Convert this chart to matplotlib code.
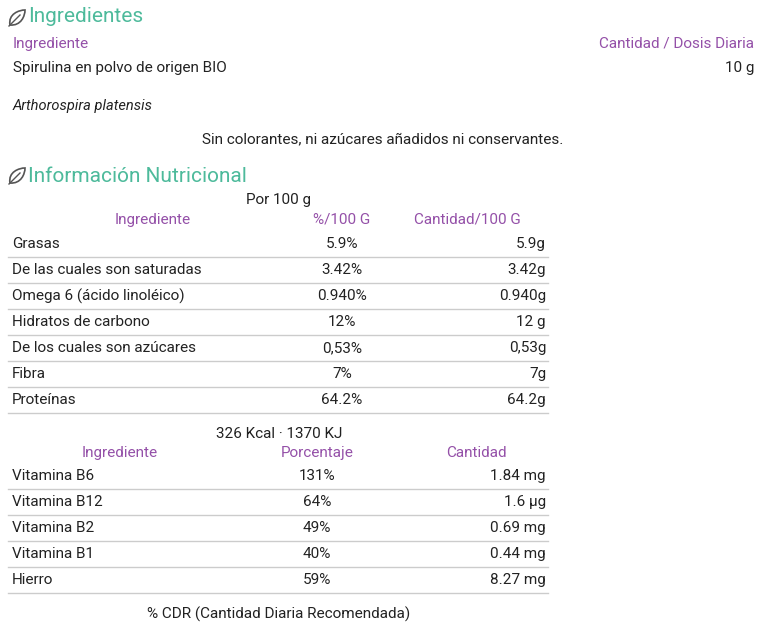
import matplotlib
matplotlib.use("Agg")
import matplotlib.pyplot as plt
from matplotlib.patches import PathPatch
from matplotlib.path import Path

plt.rcParams['font.family'] = ['Roboto', 'DejaVu Sans']

ingredients = ["Spirulina en polvo de origen BIO"]
ingredient_qty = ["10 g"]
nut_names = ["Grasas", "De las cuales son saturadas", "Omega 6 (ácido linoléico)",
             "Hidratos de carbono", "De los cuales son azúcares", "Fibra", "Proteínas"]
nut_pct = ["5.9%", "3.42%", "0.940%", "12%", "0,53%", "7%", "64.2%"]
nut_qty = ["5.9g", "3.42g", "0.940g", "12 g", "0,53g", "7g", "64.2g"]
vit_names = ["Vitamina B6", "Vitamina B12", "Vitamina B2", "Vitamina B1", "Hierro"]
vit_pct = ["131%", "64%", "49%", "40%", "59%"]
vit_qty = ["1.84 mg", "1.6 µg", "0.69 mg", "0.44 mg", "8.27 mg"]

GREEN = "#4dba9b"
PURPLE = "#9450a8"
TXT = "#222222"
LINE = "#cccccc"

fig = plt.figure(figsize=(7.62, 6.32), dpi=100)
ax = fig.add_axes([0, 0, 1, 1])
ax.set_xlim(0, 762); ax.set_ylim(632, 0); ax.axis("off")

FS = 11

def leaf(x, y):
    verts = [(x-7, y+7), (x-9, y-4), (x+2, y-8), (x+8, y-8),
             (x+8, y-2), (x+4, y+8), (x-7, y+7)]
    codes = [Path.MOVETO, Path.CURVE4, Path.CURVE4, Path.CURVE4,
             Path.CURVE4, Path.CURVE4, Path.CURVE4]
    ax.add_patch(PathPatch(Path(verts, codes), fill=False, ec="#555", lw=1.2))
    ax.plot([x-8, x+3], [y+8, y-3], color="#555", lw=1)

leaf(17, 18)
ax.text(28, 17, "Ingredientes", color=GREEN, fontsize=15, va="center")
ax.text(13, 44, "Ingrediente", color=PURPLE, fontsize=FS, va="center")
ax.text(754, 44, "Cantidad / Dosis Diaria", color=PURPLE, fontsize=FS, va="center", ha="right")
for i, (n, q) in enumerate(zip(ingredients, ingredient_qty)):
    ax.text(13, 68 + 24*i, n, color=TXT, fontsize=FS, va="center")
    ax.text(754, 68 + 24*i, q, color=TXT, fontsize=FS, va="center", ha="right")
ax.text(13, 106, "Arthorospira platensis", color=TXT, fontsize=FS-0.5, va="center", style="italic")
ax.text(383, 139, "Sin colorantes, ni azúcares añadidos ni conservantes.", color=TXT, fontsize=FS, va="center", ha="center")

leaf(17, 176)
ax.text(28, 176, "Información Nutricional", color=GREEN, fontsize=15, va="center")
ax.text(279, 200, "Por 100 g", color=TXT, fontsize=FS, va="center", ha="center")
ax.text(153, 220, "Ingrediente", color=PURPLE, fontsize=FS, va="center", ha="center")
ax.text(342, 220, "%/100 G", color=PURPLE, fontsize=FS, va="center", ha="center")
ax.text(467, 220, "Cantidad/100 G", color=PURPLE, fontsize=FS, va="center", ha="center")
for i, (n, p, q) in enumerate(zip(nut_names, nut_pct, nut_qty)):
    y = 244 + 26*i
    ax.text(12, y, n, color=TXT, fontsize=FS, va="center")
    ax.text(342, y, p, color=TXT, fontsize=FS, va="center", ha="center")
    ax.text(546, y, q, color=TXT, fontsize=FS, va="center", ha="right")
    ax.plot([8, 548], [y+13, y+13], color=LINE, lw=1)

ax.text(279, 434, "326 Kcal · 1370 KJ", color=TXT, fontsize=FS, va="center", ha="center")
ax.text(120, 453, "Ingrediente", color=PURPLE, fontsize=FS, va="center", ha="center")
ax.text(317, 453, "Porcentaje", color=PURPLE, fontsize=FS, va="center", ha="center")
ax.text(476, 453, "Cantidad", color=PURPLE, fontsize=FS, va="center", ha="center")
for i, (n, p, q) in enumerate(zip(vit_names, vit_pct, vit_qty)):
    y = 476 + 26*i
    ax.text(12, y, n, color=TXT, fontsize=FS, va="center")
    ax.text(317, y, p, color=TXT, fontsize=FS, va="center", ha="center")
    ax.text(546, y, q, color=TXT, fontsize=FS, va="center", ha="right")
    ax.plot([8, 548], [y+13, y+13], color=LINE, lw=1)

ax.text(279, 614, "% CDR (Cantidad Diaria Recomendada)", color=TXT, fontsize=FS, va="center", ha="center")

fig.savefig("out.png", dpi=100)
